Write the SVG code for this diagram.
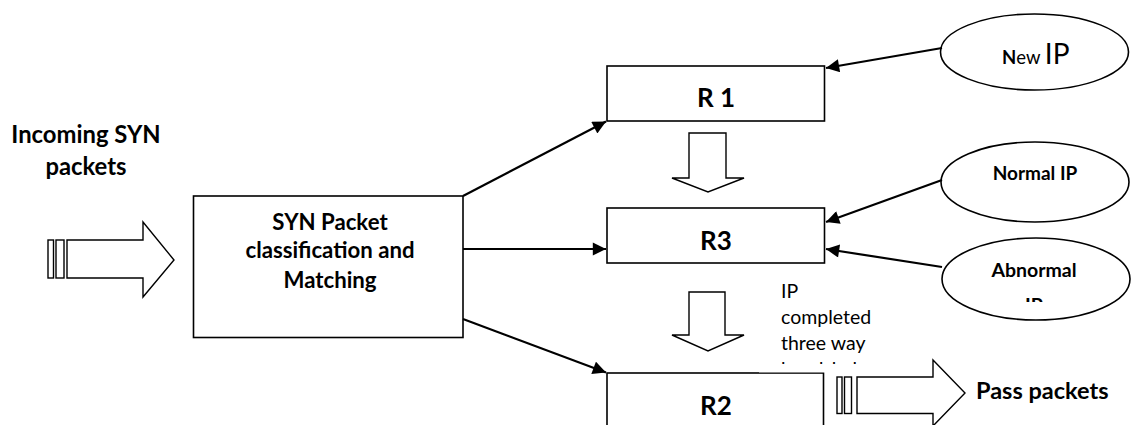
<svg xmlns="http://www.w3.org/2000/svg" width="1135" height="425" viewBox="0 0 1135 425">
  <style>
    .box { fill: #fff; stroke: #000; stroke-width: 1.6; }
    .oval { fill: #fff; stroke: #000; stroke-width: 1.6; }
    .hollow { fill: #fff; stroke: #000; stroke-width: 1.4; stroke-linejoin: miter; }
    .link { fill: none; stroke: #000; stroke-width: 2.2; }
    .t { font-family: Lato, "Liberation Sans", sans-serif; fill: #000; }
    .b { font-weight: bold; }
  </style>
  <defs>
    <marker id="head" viewBox="0 0 10 10" refX="10" refY="5" markerWidth="7" markerHeight="6" markerUnits="strokeWidth" orient="auto">
      <path d="M0,0 L10,5 L0,10 z" fill="#000"/>
    </marker>
    <clipPath id="clipAbn"><rect x="940" y="236" width="195" height="66"/></clipPath>
    <clipPath id="clipNote"><rect x="759" y="280" width="125" height="84"/></clipPath>
  </defs>

  <!-- incoming stream -->
  <g id="incoming">
    <text class="t b" x="86" y="143" font-size="23.8" text-anchor="middle">Incoming SYN</text>
    <text class="t b" x="86" y="175" font-size="23.8" text-anchor="middle">packets</text>
    <rect class="hollow" x="48" y="240" width="5.5" height="38"/>
    <rect class="hollow" x="56" y="240" width="8" height="38"/>
    <polygon class="hollow" points="67,240 143,240 143,222 174,260 143,297 143,278 67,278"/>
  </g>

  <!-- classifier -->
  <g id="classifier">
    <rect class="box" x="193.5" y="196" width="269.5" height="141.5"/>
    <text class="t b" x="330" y="230" font-size="22.2" text-anchor="middle">SYN Packet</text>
    <text class="t b" x="330" y="258" font-size="22.2" text-anchor="middle">classification and</text>
    <text class="t b" x="330" y="288" font-size="22.2" text-anchor="middle">Matching</text>
  </g>

  <g id="r1">
    <rect class="box" x="607" y="66" width="217.5" height="55"/>
    <text class="t b" x="716" y="107" font-size="26" text-anchor="middle">R 1</text>
  </g>

  <g id="r3">
    <rect class="box" x="607" y="208" width="217.5" height="55"/>
    <text class="t b" x="716" y="250" font-size="26" text-anchor="middle">R3</text>
  </g>

  <g id="r2">
    <rect class="box" x="607" y="373" width="216.5" height="70"/>
    <text class="t b" x="716" y="415" font-size="26" text-anchor="middle">R2</text>
  </g>

  <!-- transfer arrows between lists -->
  <g id="r1-to-r3">
    <polygon class="hollow" points="689,133 726,133 726,178 744,178 708,192 672,178 689,178"/>
  </g>
  <g id="r3-to-r2">
    <polygon class="hollow" points="689,292 725,292 725,335 744,335 708,351 672,335 689,335"/>
  </g>

  <!-- note box over R2 -->
  <g id="note">
    <rect x="759" y="280" width="125" height="92.4" fill="#fff"/>
    <g clip-path="url(#clipNote)" class="t" font-size="19.5">
      <text x="781" y="298">IP</text>
      <text x="781" y="324">completed</text>
      <text x="781" y="350">three way</text>
      <text x="781" y="376">handshake</text>
    </g>
  </g>

  <g id="new-ip">
    <ellipse class="oval" cx="1034.5" cy="52" rx="94" ry="38"/>
    <text class="t" x="1002" y="63.5"><tspan font-size="18.5" font-weight="bold">N</tspan><tspan font-size="18.5">ew </tspan><tspan font-size="28">IP</tspan></text>
  </g>

  <g id="normal-ip">
    <ellipse class="oval" cx="1035" cy="182" rx="94" ry="40"/>
    <text class="t b" x="1035" y="180" font-size="19" text-anchor="middle">Normal IP</text>
  </g>

  <g id="abnormal-ip">
    <ellipse class="oval" cx="1036" cy="279" rx="94" ry="41"/>
    <g clip-path="url(#clipAbn)">
      <text class="t b" x="1034" y="277" font-size="19.5" text-anchor="middle">Abnormal</text>
      <text class="t b" x="1034" y="312" font-size="19.5" text-anchor="middle">IP</text>
    </g>
  </g>

  <!-- accepted stream -->
  <g id="pass">
    <rect class="hollow" x="837" y="377" width="5" height="36.5"/>
    <rect class="hollow" x="844.5" y="377" width="7" height="36.5"/>
    <polygon class="hollow" points="857,377 933,377 933,360 965,393 933,426 933,413.5 857,413.5"/>
    <text class="t b" x="976" y="399" font-size="23.5">Pass packets</text>
  </g>

  <g id="connectors">
    <line class="link" x1="463" y1="196" x2="606" y2="121.5" marker-end="url(#head)"/>
    <line class="link" x1="463" y1="249" x2="606" y2="249" marker-end="url(#head)"/>
    <line class="link" x1="463" y1="319" x2="606" y2="372.5" marker-end="url(#head)"/>
    <line class="link" x1="942" y1="48" x2="826" y2="68" marker-end="url(#head)"/>
    <line class="link" x1="942" y1="180" x2="826" y2="222" marker-end="url(#head)"/>
    <line class="link" x1="942" y1="267" x2="826" y2="249" marker-end="url(#head)"/>
  </g>
</svg>
